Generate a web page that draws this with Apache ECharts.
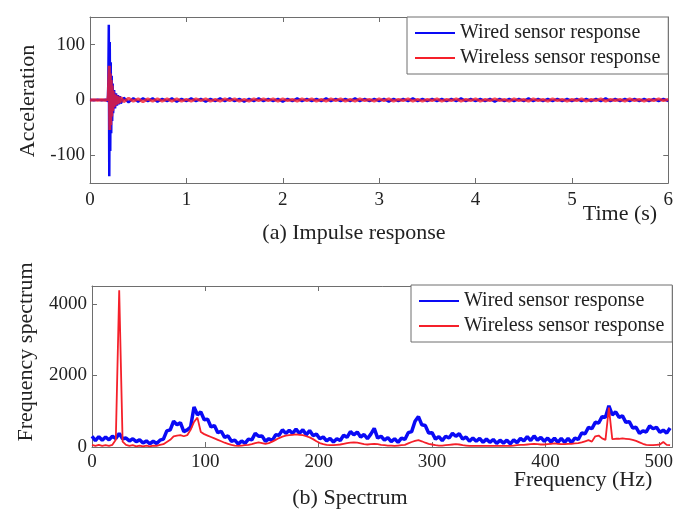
<!DOCTYPE html>
<html><head><meta charset="utf-8">
<script src="https://cdn.jsdelivr.net/npm/echarts@6/dist/echarts.min.js"></script>
<style>html,body{margin:0;padding:0;background:#fff}#c{width:676px;height:511px}</style>
</head><body><div id="c"></div>
<script>
// ---------- data: (a) impulse response ----------
const impulseTime = [0, 0.04, 0.08, 0.12, 0.16, 0.185, 0.19, 0.195, 0.2, 0.205, 0.21, 0.215, 0.22, 0.225, 0.23, 0.235, 0.24, 0.25, 0.26, 0.27, 0.28, 0.29, 0.3, 0.31, 0.32];
const wiredImpulse = [0.5, -0.6, 0.7, -0.5, 0.6, -2, 30, 136, -138, 105, -92, 68, -60, 44, -38, 30, -24, 18, -15, 12, -10, 9, -8, 7, -6];
const wirelessImpulse = [-0.4, 0.5, -0.6, 0.4, -0.5, 1, 8, 40, 62, -54, 48, -45, 36, -30, 26, -20, 16, -13, 10, -9, 8, -7, 6, -5, 5];
const tailStart = 0.35, tailStep = 0.05;
const wiredTail = [
  4,-4,3,-3,3,-2,3,-3,2,-2,
  3,-3,2,-2,3,-2,2,-3,2,-2,
  3,-2,3,-2,2,-3,2,-2,3,-2,
  2,-2,2,-3,2,-2,3,-2,2,-2,
  2,-2,3,-2,2,-2,2,-2,3,-2,
  2,-2,2,-2,2,-3,2,-2,2,-2,
  3,-2,2,-2,2,-2,2,-2,2,-2,
  3,-2,2,-2,2,-2,2,-3,2,-2,
  2,-2,2,-2,3,-2,2,-2,2,-2,
  2,-2,2,-2,2,-2,2,-2,2,-2,
  3,-2,2,-2,2,-2,2,-2,2,-2,
  2,-2,2,-2];
const wirelessTail = [
  -3,3,-2,2,-3,2,-2,2,-2,2,
  -2,2,-2,1,-2,2,-1,2,-2,1,
  -2,2,-1,2,-2,1,-2,2,-1,2,
  -1,2,-2,2,-1,1,-2,2,-1,2,
  -2,1,-2,2,-1,2,-2,1,-2,2,
  -1,1,-2,2,-1,2,-2,1,-1,2,
  -2,1,-2,1,-1,2,-2,1,-1,2,
  -2,1,-1,2,-2,1,-1,2,-1,1,
  -2,2,-1,1,-2,2,-1,1,-2,2,
  -1,1,-2,1,-1,2,-2,1,-1,2,
  -2,1,-1,1,-2,2,-1,1,-2,1,
  -1,2,-1,1];

// ---------- data: (b) spectrum (0..510 Hz, every 3 Hz) ----------
const freqStep = 3;
const wiredSpectrum = [
  300,180,290,190,280,200,300,240,380,230,
  250,170,230,150,200,110,170,90,160,100,
  190,220,450,480,720,620,680,430,480,560,
  1120,900,980,760,780,560,600,400,440,270,
  310,160,190,80,170,100,220,200,380,300,
  310,160,230,180,340,330,480,380,470,380,
  500,380,480,340,460,320,360,230,280,170,
  240,140,230,180,330,270,430,340,420,280,
  350,230,360,520,250,300,190,260,150,230,
  130,250,210,400,430,720,850,620,600,390,
  400,220,290,180,300,250,380,300,370,220,
  280,160,250,160,240,130,220,130,210,100,
  190,110,190,90,200,120,240,170,290,180,
  310,190,270,160,250,140,250,130,240,130,
  240,120,250,210,390,370,550,510,690,670,
  850,830,1150,900,980,830,870,690,710,530,
  550,380,450,420,590,510,550,410,470,390,
  530];
const wirelessSpectrum = [
  60,30,60,30,50,30,60,200,4380,150,
  60,30,50,20,40,20,40,20,40,30,
  60,80,140,200,300,320,330,300,330,480,
  700,820,420,360,320,280,240,200,160,120,
  90,60,40,30,40,50,60,80,110,130,
  110,90,110,150,200,250,290,320,330,340,
  350,340,330,300,270,220,160,110,80,60,
  50,50,60,70,90,110,120,130,120,100,
  80,70,80,90,80,60,50,40,40,30,
  40,50,60,100,140,170,190,160,120,90,
  70,50,40,40,50,60,70,80,70,50,
  40,30,30,30,30,30,30,30,30,30,
  30,30,30,30,40,50,60,60,70,80,
  90,80,70,70,80,90,100,90,80,80,
  90,90,100,110,130,160,190,150,300,320,
  240,200,1100,220,230,230,240,230,220,200,
  170,130,90,60,50,50,60,70,140,60,
  50];

// ---------- axes / labels ----------
const accTicks = [-100, 0, 100];
const specTicks = [0, 2000, 4000];
const seriesNames = ['Wired sensor response', 'Wireless sensor response'];
const captions = ['(a) Impulse response', '(b) Spectrum'];
const axisNames = ['Acceleration', 'Time (s)', 'Frequency spectrum', 'Frequency (Hz)'];

const FONT = 'Liberation Serif';
const BLUE = '#0a0af5';
const RED = '#f5202a';
const AXC = '#6e6e6e';

function timePairs(imp, tail) {
  const out = imp.map((v, i) => [impulseTime[i], v]);
  tail.forEach((v, i) => out.push([+(tailStart + i * tailStep).toFixed(3), v]));
  return out;
}
function freqPairs(arr) { return arr.map((v, i) => [i * freqStep, v]); }

function xAxis(grid, min, max, interval, pos, label, margin) {
  return {
    type: 'value', gridIndex: grid, min, max, interval, position: pos,
    axisLine: { show: true, onZero: false, lineStyle: { color: AXC, width: 1 } },
    axisTick: { show: true, inside: true, length: 5, lineStyle: { color: AXC } },
    axisLabel: { show: label, margin, fontFamily: FONT, fontSize: 19, color: '#222', formatter: v => String(v) },
    splitLine: { show: false }
  };
}
function yAxis(grid, min, max, ticks, pos, label) {
  return {
    type: 'value', gridIndex: grid, min, max, position: pos,
    axisLine: { show: true, onZero: false, lineStyle: { color: AXC, width: 1 } },
    axisTick: { show: true, inside: true, length: 5, customValues: ticks, lineStyle: { color: AXC } },
    axisLabel: { show: label, customValues: ticks, margin: 5, fontFamily: FONT, fontSize: 19, color: '#222', formatter: v => String(v) },
    splitLine: { show: false }
  };
}
function legend(left, top) {
  return {
    data: seriesNames, orient: 'vertical', left, top,
    padding: [6, 8, 6, 8], itemGap: 5, itemWidth: 40, itemHeight: 2, icon: 'rect',
    textStyle: { fontFamily: FONT, fontSize: 20, color: '#222' },
    borderColor: AXC, borderWidth: 1, backgroundColor: '#fff', selectedMode: false
  };
}
function text(str, x, y, size, rot) {
  return {
    type: 'text', x, y, rotation: rot || 0,
    style: { text: str, fontFamily: FONT, fontSize: size, fill: '#222', textAlign: 'center', textVerticalAlign: 'middle' }
  };
}

const chart = echarts.init(document.getElementById('c'), null, { renderer: 'canvas' });
chart.setOption({
  animation: false,
  backgroundColor: '#fff',
  grid: [
    { left: 90, top: 17, width: 580, height: 166 },
    { left: 92, top: 286, width: 581, height: 161 }
  ],
  xAxis: [
    xAxis(0, 0, 6, 1, 'bottom', true, 8),
    xAxis(0, 0, 6, 1, 'top', false, 8),
    xAxis(1, 0, 512, 100, 'bottom', true, 6),
    xAxis(1, 0, 512, 100, 'top', false, 6)
  ],
  yAxis: [
    yAxis(0, -150, 150, accTicks, 'left', true),
    yAxis(0, -150, 150, accTicks, 'right', false),
    yAxis(1, 0, 4500, specTicks, 'left', true),
    yAxis(1, 0, 4500, specTicks, 'right', false)
  ],
  legend: [legend(407, 17), legend(411, 285)],
  series: [
    { name: seriesNames[0], type: 'line', xAxisIndex: 0, yAxisIndex: 0, data: timePairs(wiredImpulse, wiredTail),
      showSymbol: false, symbol: 'none', lineStyle: { color: BLUE, width: 2.5 }, itemStyle: { color: BLUE } },
    { name: seriesNames[1], type: 'line', xAxisIndex: 0, yAxisIndex: 0, data: timePairs(wirelessImpulse, wirelessTail),
      showSymbol: false, symbol: 'none', lineStyle: { color: RED, width: 3, opacity: 0.8 }, itemStyle: { color: RED } },
    { name: seriesNames[0], type: 'line', xAxisIndex: 2, yAxisIndex: 2, data: freqPairs(wiredSpectrum),
      showSymbol: false, symbol: 'none', lineStyle: { color: BLUE, width: 3.5 }, itemStyle: { color: BLUE } },
    { name: seriesNames[1], type: 'line', xAxisIndex: 2, yAxisIndex: 2, data: freqPairs(wirelessSpectrum),
      showSymbol: false, symbol: 'none', lineStyle: { color: RED, width: 1.8 }, itemStyle: { color: RED } }
  ],
  graphic: [
    text(axisNames[0], 28, 101, 22, Math.PI / 2),
    text(axisNames[1], 620, 214, 22),
    text(captions[0], 354, 233, 22),
    text(axisNames[2], 26, 352, 22, Math.PI / 2),
    text(axisNames[3], 583, 480, 22),
    text(captions[1], 350, 498, 22)
  ]
});
</script>
</body></html>
